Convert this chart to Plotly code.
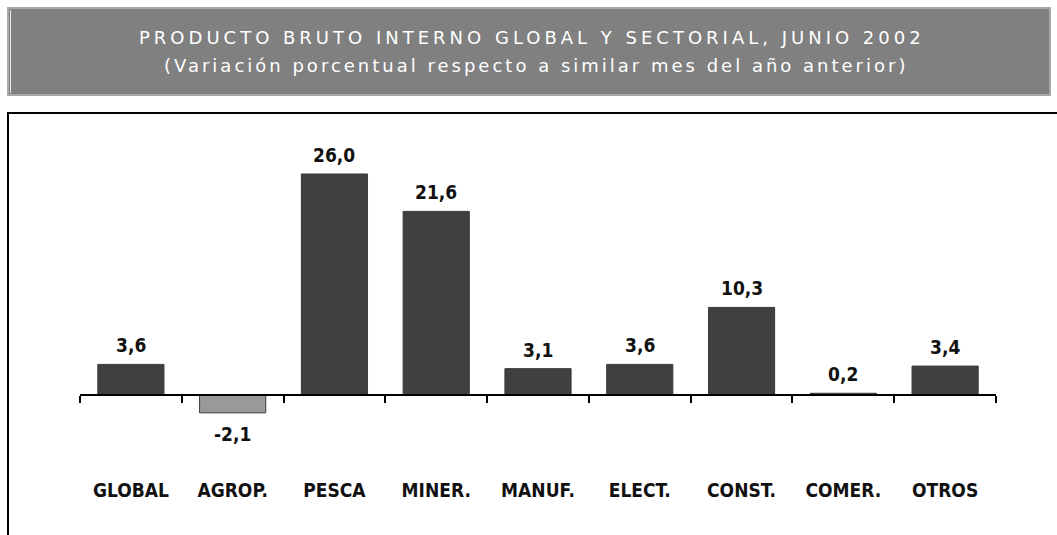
import plotly.graph_objects as go

# ---- data ----
categories = ["GLOBAL", "AGROP.", "PESCA", "MINER.", "MANUF.", "ELECT.", "CONST.", "COMER.", "OTROS"]
values = [3.6, -2.1, 26.0, 21.6, 3.1, 3.6, 10.3, 0.2, 3.4]
title_line1 = "PRODUCTO BRUTO INTERNO GLOBAL Y SECTORIAL, JUNIO 2002"
title_line2 = "(Variación porcentual respecto a similar mes del año anterior)"

# ---- layout geometry (page pixels; body margin removed) ----
W, H = 1057, 535
ML, MR, MT, MB = 80, 61, 120, 75
PW, PH = W - ML - MR, H - MT - MB
YMIN, YMAX = -7.65, 32.35


def px_x(px):
    return (px - ML) / PW


def px_y(py):
    return (H - MB - py) / PH


POS_COLOR = "#404040"
NEG_COLOR = "#999999"
bar_colors = [POS_COLOR if v >= 0 else NEG_COLOR for v in values]

label_font = dict(family="Liberation Sans Narrow, DejaVu Sans Condensed, Arial Narrow, sans-serif",
                  size=19, color="#111111", weight="bold")

fig = go.Figure()
fig.add_trace(go.Bar(
    x=categories, y=values, width=0.65,
    marker=dict(color=bar_colors, line=dict(color="#3a3a3a", width=1)),
    hoverinfo="skip",
))

annotations = []
for c, v in zip(categories, values):
    annotations.append(dict(
        x=c, y=v, xref="x", yref="y",
        text=f"{v:.1f}".replace(".", ","),
        showarrow=False, font=label_font,
        yanchor="bottom" if v >= 0 else "top",
        yshift=6 if v >= 0 else -8,
    ))

title_font = dict(family="DejaVu Sans, Verdana, sans-serif", size=18, color="white")
annotations.append(dict(x=px_x(532), y=px_y(37), xref="paper", yref="paper", text=title_line1,
                        showarrow=False, font=title_font, xanchor="center", yanchor="middle"))
annotations.append(dict(x=px_x(536), y=px_y(66), xref="paper", yref="paper", text=title_line2,
                        showarrow=False, font=title_font, xanchor="center", yanchor="middle"))

shapes = [
    # title box
    dict(type="rect", xref="paper", yref="paper",
         x0=px_x(8), x1=px_x(1050), y0=px_y(95), y1=px_y(8),
         fillcolor="#808080", line=dict(color="#a8a8a8", width=2), layer="below"),
    dict(type="line", xref="paper", yref="paper",
         x0=px_x(10.5), x1=px_x(10.5), y0=px_y(93), y1=px_y(10),
         line=dict(color="#e8e8e8", width=1), layer="below"),
    # chart frame
    dict(type="rect", xref="paper", yref="paper",
         x0=px_x(8), x1=px_x(1075), y0=px_y(560), y1=px_y(113),
         fillcolor="rgba(0,0,0,0)", line=dict(color="black", width=2), layer="below"),
]

fig.update_layout(
    width=W, height=H,
    margin=dict(l=ML, r=MR, t=MT, b=MB, pad=0),
    paper_bgcolor="white", plot_bgcolor="white",
    showlegend=False,
    annotations=annotations,
    shapes=shapes,
    xaxis=dict(
        type="category", range=[-0.5, len(categories) - 0.5],
        anchor="free", position=-YMIN / (YMAX - YMIN),
        showline=True, linecolor="black", linewidth=2,
        ticks="outside", tickson="boundaries", ticklen=7, tickwidth=2, tickcolor="black",
        showgrid=False, zeroline=False,
        tickfont=label_font, ticklabelstandoff=78,
        fixedrange=True,
    ),
    yaxis=dict(range=[YMIN, YMAX], visible=False, showgrid=False, zeroline=False, fixedrange=True),
)

post_js = """
document.body.style.margin = '0';
var gd = document.getElementById('{plot_id}');
gd.querySelectorAll('.annotation-text').forEach(function (t) {
  var s = t.textContent;
  if (s.indexOf('PRODUCTO') === 0) { t.style.letterSpacing = '4px'; }
  else if (s.indexOf('(Variaci') === 0) { t.style.letterSpacing = '3px'; }
});
"""

fig.write_html("out.html", config={"displayModeBar": False}, post_script=post_js)
